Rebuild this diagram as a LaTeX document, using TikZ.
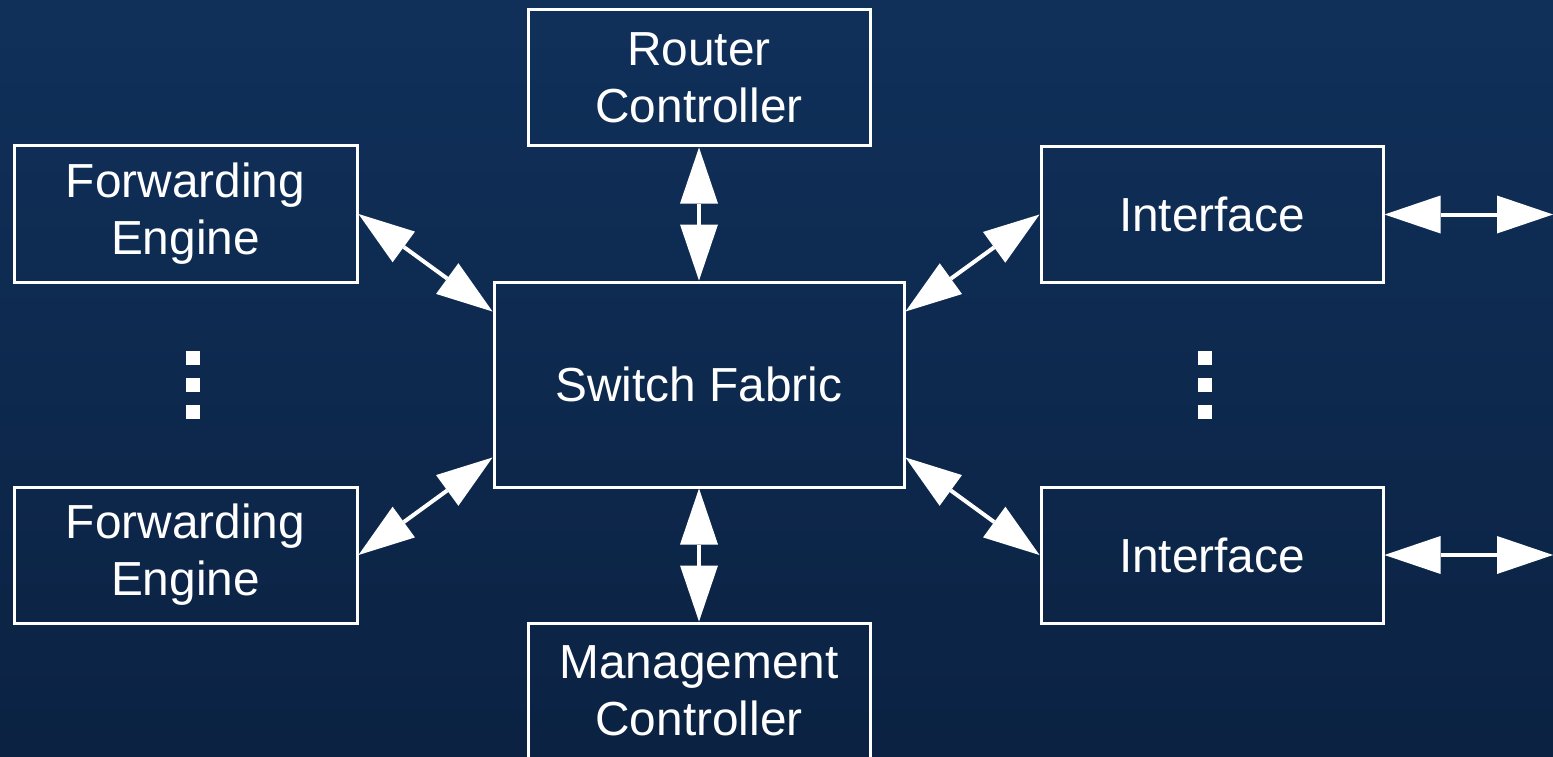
\documentclass[tikz,border=0pt]{standalone}
\usepackage{fontspec}
\setmainfont{Liberation Sans}
\usetikzlibrary{arrows.meta}
\definecolor{bgtop}{RGB}{16,48,90}
\definecolor{bgbot}{RGB}{11,34,66}
\tikzset{
  block/.style={draw=white, line width=3pt, text=white, align=center,
    inner sep=0pt, font=\fontsize{47.8}{57}\selectfont},
  biarrow/.style={draw=white, line width=4pt,
    {Triangle[length=56pt,width=38pt,line width=0pt]}-{Triangle[length=56pt,width=38pt,line width=0pt]}},
  dot/.style={fill=white}
}
\begin{document}
\begin{tikzpicture}[x=1pt,y=-1pt]
  \useasboundingbox (0,0) rectangle (1553,757);
  \shade[top color=bgtop, bottom color=bgbot] (0,0) rectangle (1553,757);
  \clip (0,0) rectangle (1553,757);

  % blocks
  \node[block, minimum width=342pt, minimum height=136pt] (rc) at (699,78) {Router\\Controller};
  \node[block, minimum width=343pt, minimum height=136pt] (fe1) at (185.5,214) {Forwarding\\Engine};
  \node[block, minimum width=342pt, minimum height=135pt] (if1) at (1212,214.5) {Interface};
  \node[block, minimum width=410pt, minimum height=205pt] (sf) at (699,384.5) {Switch Fabric};
  \node[block, minimum width=343pt, minimum height=136pt] (fe2) at (185.5,555) {Forwarding\\Engine};
  \node[block, minimum width=342pt, minimum height=136pt] (if2) at (1212,555) {Interface};
  \node[block, minimum width=342pt, minimum height=136pt] (mc) at (699,691) {Management\\Controller};

  % outward ends of the interface links
  \coordinate (out1) at (1553,214.5);
  \coordinate (out2) at (1553,555);

  % connections
  \draw[biarrow] (rc.south) -- (sf.north);
  \draw[biarrow] (sf.south) -- (mc.north);
  \draw[biarrow] (fe1.east) -- ([yshift=-31pt]sf.north west);
  \draw[biarrow] (fe2.east) -- ([yshift=31pt]sf.south west);
  \draw[biarrow] ([yshift=-31pt]sf.north east) -- (if1.west);
  \draw[biarrow] ([yshift=31pt]sf.south east) -- (if2.west);
  \draw[biarrow] (if1.east) -- (out1);
  \draw[biarrow] (if2.east) -- (out2);

  % ellipsis dots
  \foreach \y in {351,378,405} {
    \fill[dot] (186,\y) rectangle (200,\y+14);
    \fill[dot] (1198,\y) rectangle (1212,\y+14);
  }
\end{tikzpicture}
\end{document}
